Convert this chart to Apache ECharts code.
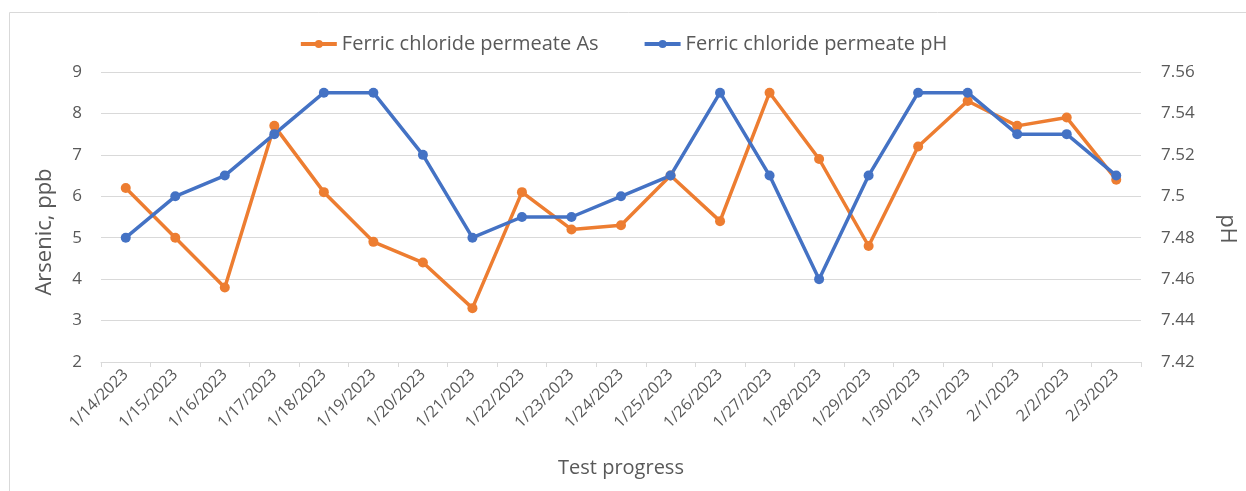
<!DOCTYPE html>
<html>
<head>
<meta charset="utf-8">
<script src="https://cdn.jsdelivr.net/npm/echarts@6/dist/echarts.min.js"></script>
<style>
  html, body { margin: 0; padding: 0; background: #fff; }
  #main { width: 1246px; height: 491px; }
</style>
</head>
<body>
<div id="main"></div>
<script>
var dates = ['1/14/2023', '1/15/2023', '1/16/2023', '1/17/2023', '1/18/2023', '1/19/2023', '1/20/2023',
    '1/21/2023', '1/22/2023', '1/23/2023', '1/24/2023', '1/25/2023', '1/26/2023', '1/27/2023',
    '1/28/2023', '1/29/2023', '1/30/2023', '1/31/2023', '2/1/2023', '2/2/2023', '2/3/2023'];
var arsenic = [6.2, 5.0, 3.8, 7.7, 6.1, 4.9, 4.4, 3.3, 6.1, 5.2, 5.3, 6.5, 5.4, 8.5, 6.9, 4.8, 7.2, 8.3, 7.7, 7.9, 6.4];
var ph = [7.48, 7.50, 7.51, 7.53, 7.55, 7.55, 7.52, 7.48, 7.49, 7.49, 7.50, 7.51, 7.55, 7.51, 7.46, 7.51, 7.55, 7.55, 7.53, 7.53, 7.51];

var txt = '#595959';
var font = 'Open Sans';

var chart = echarts.init(document.getElementById('main'));
chart.setOption({
    animation: false,
    textStyle: { fontFamily: font, color: txt },
    // light frame round the chart, like the office chart area
    graphic: [{
        type: 'rect',
        shape: { x: 9.5, y: 12.5, width: 1250, height: 500 },
        style: { fill: 'none', stroke: '#d9d9d9', lineWidth: 1 },
        silent: true
    }],
    legend: {
        top: 29,
        left: 'center',
        itemGap: 44,
        itemWidth: 36,
        itemHeight: 10,
        lineStyle: { width: 4 },
        textStyle: { fontSize: 20, color: txt, fontFamily: font },
        data: ['Ferric chloride permeate As', 'Ferric chloride permeate pH']
    },
    grid: { left: 101, right: 100, top: 72, bottom: 129 },
    xAxis: {
        type: 'category',
        data: dates,
        boundaryGap: true,
        name: 'Test progress',
        nameLocation: 'middle',
        nameGap: 96,
        nameTextStyle: { fontSize: 20, color: txt },
        axisLine: { lineStyle: { color: '#d9d9d9', width: 1 } },
        axisTick: { show: true, length: 5, lineStyle: { color: '#d9d9d9' } },
        axisLabel: { rotate: 45, fontSize: 16, color: txt, margin: 10, interval: 0 }
    },
    yAxis: [{
        type: 'value',
        min: 2, max: 9, interval: 1,
        name: 'Arsenic, ppb',
        nameLocation: 'middle',
        nameGap: 45,
        nameTextStyle: { fontSize: 22, color: txt, padding: [0, 30, 0, 0] },
        axisLine: { show: false },
        axisTick: { show: false },
        axisLabel: { fontSize: 17, color: txt, margin: 19 },
        splitLine: { lineStyle: { color: '#d9d9d9', width: 1 } }
    }, {
        type: 'value',
        min: 7.42, max: 7.56, interval: 0.02,
        name: 'pH',
        nameLocation: 'middle',
        nameGap: 75,
        nameRotate: -90,
        nameTextStyle: { fontSize: 22, color: txt, padding: [0, 0, 0, 24] },
        axisLine: { show: false },
        axisTick: { show: false },
        axisLabel: {
            fontSize: 17, color: txt, margin: 20,
            formatter: function (v) { return String(parseFloat(v.toFixed(2))); }
        },
        splitLine: { show: false }
    }],
    series: [{
        name: 'Ferric chloride permeate As',
        type: 'line',
        yAxisIndex: 0,
        data: arsenic,
        symbol: 'circle',
        symbolSize: 10,
        itemStyle: { color: '#ed7d31' },
        lineStyle: { color: '#ed7d31', width: 3.5 }
    }, {
        name: 'Ferric chloride permeate pH',
        type: 'line',
        yAxisIndex: 1,
        data: ph,
        symbol: 'circle',
        symbolSize: 10,
        itemStyle: { color: '#4472c4' },
        lineStyle: { color: '#4472c4', width: 3.5 }
    }]
});
</script>
</body>
</html>
